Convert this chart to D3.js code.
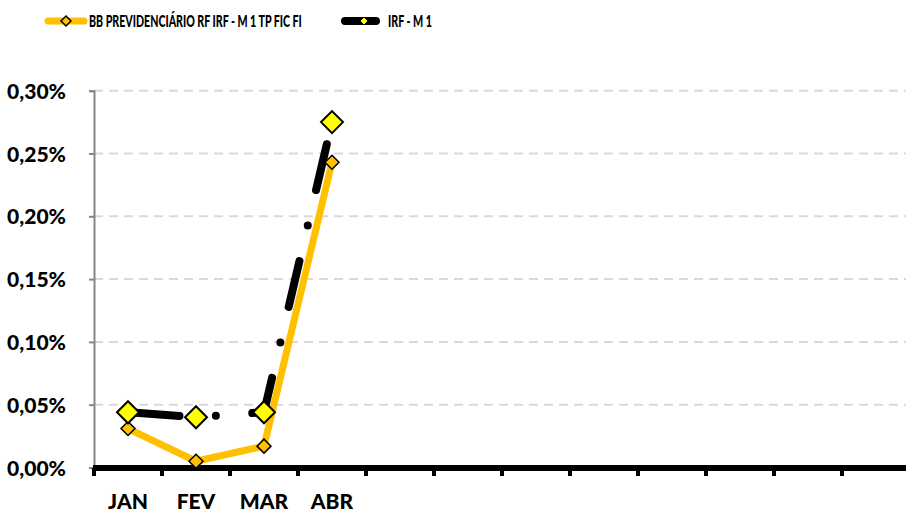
<!DOCTYPE html>
<html>
<head>
<meta charset="utf-8">
<script src="https://cdn.jsdelivr.net/npm/d3@7"></script>
<style>
  html, body { margin: 0; padding: 0; background: #fff; }
  svg { display: block; }
  text { font-family: Lato, "Open Sans", sans-serif; font-weight: 900; fill: #000; }
</style>
</head>
<body>
<svg id="chart" width="906" height="513"></svg>
<script>
// ---- data ----
const months = ["JAN", "FEV", "MAR", "ABR", "MAI", "JUN", "JUL", "AGO", "SET", "OUT", "NOV", "DEZ"];
const monthLabels = ["JAN", "FEV", "MAR", "ABR", "", "", "", "", "", "", "", ""];
const bbValues = [0.031, 0.005, 0.017, 0.243];   // % — BB PREVIDENCIÁRIO RF IRF - M 1 TP FIC FI
const irfValues = [0.044, 0.040, 0.044, 0.275];  // % — IRF - M 1
const yTicks = [0, 0.05, 0.10, 0.15, 0.20, 0.25, 0.30];
const seriesNames = ["BB PREVIDENCIÁRIO RF IRF - M 1 TP FIC FI", "IRF - M 1"];

const svg = d3.select("#chart");
const x = d3.scaleBand().domain(months).range([94, 910]).padding(0);
const y = d3.scaleLinear().domain([0, 0.30]).range([467.5, 90.7]);
const fmt = v => d3.format(".2f")(v).replace(".", ",") + "%";

// gridlines
svg.append("g").selectAll("line").data(yTicks.filter(d => d > 0)).join("line")
  .attr("x1", 94).attr("x2", 906)
  .attr("y1", d => y(d)).attr("y2", d => y(d))
  .attr("stroke", "#d9d9d9").attr("stroke-width", 2).attr("stroke-dasharray", "9,6");

// y axis
const yAxis = svg.append("g").attr("transform", "translate(94,0)")
  .call(d3.axisLeft(y).tickValues(yTicks).tickFormat(fmt).tickSize(5).tickPadding(23));
yAxis.select(".domain").attr("stroke", "#868686").attr("stroke-width", 2);
yAxis.selectAll(".tick line").attr("stroke", "#868686").attr("stroke-width", 2);
yAxis.selectAll(".tick text").attr("font-size", 21).attr("font-family", "Lato").attr("font-weight", 900)
  .attr("dy", "0.36em").attr("textLength", 59).attr("lengthAdjust", "spacingAndGlyphs");

// x axis
const xAxis = svg.append("g").attr("transform", "translate(0,468)")
  .call(d3.axisBottom(x).tickSize(0).tickFormat((d, i) => monthLabels[i]).tickPadding(26));
xAxis.select(".domain").remove();
xAxis.append("line").attr("x1", 93).attr("x2", 906).attr("y1", 0).attr("y2", 0)
  .attr("stroke", "#000").attr("stroke-width", 6);
xAxis.selectAll(".tickmark").data(d3.range(13)).join("line").attr("class", "tickmark")
  .attr("x1", i => 94 + i * x.bandwidth()).attr("x2", i => 94 + i * x.bandwidth())
  .attr("y1", 0).attr("y2", 8).attr("stroke", "#000").attr("stroke-width", 4);
xAxis.selectAll(".tick text").attr("font-size", 21).attr("font-family", "Lato").attr("font-weight", 900);

const cx = i => x(months[i]) + x.bandwidth() / 2;
const line = d3.line().x((d, i) => cx(i)).y(d => y(d));
const diamond = r => `M0,${-r}L${r},0L0,${r}L${-r},0Z`;

// BB series
svg.append("path").datum(bbValues).attr("d", line)
  .attr("fill", "none").attr("stroke", "#FFC000").attr("stroke-width", 7)
  .attr("stroke-linejoin", "round").attr("stroke-linecap", "round");
// IRF series
svg.append("path").datum(irfValues).attr("d", line)
  .attr("fill", "none").attr("stroke", "#000").attr("stroke-width", 8)
  .attr("stroke-linejoin", "round").attr("stroke-linecap", "round")
  .attr("stroke-dasharray", "47,36.5,0,36.5").attr("stroke-dashoffset", 115.4);

svg.append("g").selectAll("path").data(bbValues).join("path")
  .attr("transform", (d, i) => `translate(${cx(i)},${y(d)})`)
  .attr("d", diamond(7)).attr("fill", "#FFC000").attr("stroke", "#000").attr("stroke-width", 1.5);
svg.append("g").selectAll("path").data(irfValues).join("path")
  .attr("transform", (d, i) => `translate(${cx(i)},${y(d)})`)
  .attr("d", diamond(11)).attr("fill", "#FFFF00").attr("stroke", "#000").attr("stroke-width", 2);

// legend
const lg = svg.append("g");
function fitText(sel, px, py, w) {
  const n = sel.node().getComputedTextLength();
  sel.attr("transform", `translate(${px},${py}) scale(${w / n},1)`);
}
lg.append("line").attr("x1", 48).attr("x2", 84).attr("y1", 21).attr("y2", 21)
  .attr("stroke", "#FFC000").attr("stroke-width", 7).attr("stroke-linecap", "round");
lg.append("path").attr("transform", "translate(66,21)").attr("d", diamond(5))
  .attr("fill", "#FFC000").attr("stroke", "#000").attr("stroke-width", 1.5);
const t1 = lg.append("text").attr("font-size", 17.5).text(seriesNames[0]);
fitText(t1, 89, 27, 213);
lg.append("line").attr("x1", 345).attr("x2", 376).attr("y1", 21).attr("y2", 21)
  .attr("stroke", "#000").attr("stroke-width", 8).attr("stroke-linecap", "round");
lg.append("path").attr("transform", "translate(364,21)").attr("d", diamond(4))
  .attr("fill", "#FFFF00").attr("stroke", "#000").attr("stroke-width", 1);
const t2 = lg.append("text").attr("font-size", 17.5).text(seriesNames[1]);
fitText(t2, 388, 27, 44);
</script>
</body>
</html>
